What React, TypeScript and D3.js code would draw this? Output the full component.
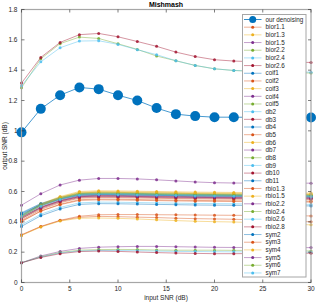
import * as d3 from "d3";

// Input SNR (dB) sample points
const inputSNR = [0, 2, 4, 6, 8, 10, 12, 14, 16, 18, 20, 22, 24, 26, 28, 30];
const xTicks = [0, 5, 10, 15, 20, 25, 30];
const yTicks = [0, 0.2, 0.4, 0.6, 0.8, 1, 1.2, 1.4, 1.6, 1.8];

const colorOrder = ["#0072BD", "#D95319", "#EDB120", "#7E2F8E", "#77AC30", "#4DBEEE", "#A2142F"];

const seriesNames = [
  "our denoising",
  "bior1.1", "bior1.3", "bior1.5", "bior2.2", "bior2.4", "bior2.6",
  "coif1", "coif2", "coif3", "coif4", "coif5",
  "db2", "db3", "db4", "db5", "db6", "db7", "db8", "db9", "db10", "db11",
  "rbio1.3", "rbio1.5", "rbio2.2", "rbio2.4", "rbio2.6", "rbio2.8",
  "sym2", "sym3", "sym4", "sym5", "sym6", "sym7",
];

// output SNR (dB), one array per method, same order as seriesNames
const seriesValues = [
  [0.99, 1.145, 1.235, 1.286, 1.275, 1.235, 1.2, 1.15, 1.11, 1.097, 1.09, 1.09, 1.089, 1.089, 1.088, 1.088],
  [0.312, 0.368, 0.408, 0.43, 0.436, 0.434, 0.431, 0.428, 0.424, 0.421, 0.419, 0.417, 0.413, 0.409, 0.405, 0.4],
  [0.42, 0.493, 0.539, 0.57, 0.575, 0.574, 0.572, 0.57, 0.568, 0.566, 0.565, 0.564, 0.563, 0.562, 0.561, 0.56],
  [0.51, 0.585, 0.643, 0.675, 0.686, 0.686, 0.683, 0.677, 0.67, 0.663, 0.658, 0.656, 0.655, 0.655, 0.655, 0.655],
  [1.284, 1.475, 1.575, 1.618, 1.609, 1.574, 1.537, 1.493, 1.462, 1.431, 1.409, 1.398, 1.392, 1.388, 1.384, 1.381],
  [1.297, 1.455, 1.548, 1.592, 1.594, 1.57, 1.535, 1.502, 1.462, 1.431, 1.409, 1.398, 1.394, 1.391, 1.389, 1.387],
  [1.315, 1.484, 1.583, 1.634, 1.642, 1.62, 1.589, 1.557, 1.519, 1.49, 1.469, 1.46, 1.456, 1.453, 1.452, 1.451],
  [0.46, 0.521, 0.56, 0.586, 0.59, 0.589, 0.587, 0.585, 0.583, 0.581, 0.58, 0.579, 0.578, 0.577, 0.576, 0.575],
  [0.41, 0.481, 0.526, 0.556, 0.56, 0.559, 0.557, 0.555, 0.553, 0.551, 0.55, 0.549, 0.548, 0.547, 0.546, 0.545],
  [0.44, 0.518, 0.567, 0.6, 0.605, 0.604, 0.602, 0.6, 0.598, 0.596, 0.595, 0.594, 0.593, 0.592, 0.591, 0.59],
  [0.44, 0.506, 0.548, 0.576, 0.58, 0.579, 0.577, 0.575, 0.573, 0.571, 0.57, 0.569, 0.568, 0.567, 0.566, 0.565],
  [0.445, 0.516, 0.561, 0.591, 0.595, 0.594, 0.592, 0.59, 0.588, 0.586, 0.585, 0.584, 0.583, 0.582, 0.581, 0.58],
  [0.38, 0.45, 0.495, 0.525, 0.53, 0.529, 0.527, 0.525, 0.523, 0.521, 0.52, 0.519, 0.518, 0.517, 0.516, 0.515],
  [0.42, 0.488, 0.532, 0.561, 0.565, 0.564, 0.562, 0.56, 0.558, 0.556, 0.555, 0.554, 0.553, 0.552, 0.551, 0.55],
  [0.455, 0.516, 0.555, 0.581, 0.585, 0.584, 0.582, 0.58, 0.578, 0.576, 0.575, 0.574, 0.573, 0.572, 0.571, 0.57],
  [0.4, 0.471, 0.516, 0.546, 0.55, 0.549, 0.547, 0.545, 0.543, 0.541, 0.54, 0.539, 0.538, 0.537, 0.536, 0.535],
  [0.435, 0.513, 0.562, 0.595, 0.6, 0.599, 0.597, 0.595, 0.593, 0.591, 0.59, 0.589, 0.588, 0.587, 0.586, 0.585],
  [0.43, 0.498, 0.542, 0.571, 0.575, 0.574, 0.572, 0.57, 0.568, 0.566, 0.565, 0.564, 0.563, 0.562, 0.561, 0.56],
  [0.44, 0.511, 0.556, 0.586, 0.59, 0.589, 0.587, 0.585, 0.583, 0.581, 0.58, 0.579, 0.578, 0.577, 0.576, 0.575],
  [0.44, 0.508, 0.552, 0.581, 0.585, 0.584, 0.582, 0.58, 0.578, 0.576, 0.575, 0.574, 0.573, 0.572, 0.571, 0.57],
  [0.43, 0.496, 0.538, 0.566, 0.57, 0.569, 0.567, 0.565, 0.563, 0.561, 0.56, 0.559, 0.558, 0.557, 0.556, 0.555],
  [0.45, 0.511, 0.55, 0.576, 0.58, 0.579, 0.577, 0.575, 0.573, 0.571, 0.57, 0.569, 0.568, 0.567, 0.566, 0.565],
  [0.315, 0.37, 0.41, 0.437, 0.447, 0.448, 0.448, 0.447, 0.446, 0.445, 0.444, 0.443, 0.442, 0.441, 0.44, 0.439],
  [0.31, 0.366, 0.405, 0.424, 0.425, 0.423, 0.419, 0.413, 0.408, 0.404, 0.401, 0.399, 0.395, 0.39, 0.385, 0.38],
  [0.13, 0.175, 0.205, 0.225, 0.233, 0.236, 0.238, 0.238, 0.236, 0.234, 0.232, 0.231, 0.231, 0.23, 0.23, 0.23],
  [0.13, 0.17, 0.198, 0.213, 0.217, 0.218, 0.217, 0.214, 0.213, 0.213, 0.213, 0.212, 0.211, 0.21, 0.209, 0.208],
  [0.13, 0.168, 0.195, 0.208, 0.211, 0.211, 0.21, 0.207, 0.205, 0.204, 0.203, 0.202, 0.202, 0.201, 0.2, 0.2],
  [0.13, 0.165, 0.19, 0.204, 0.207, 0.205, 0.201, 0.197, 0.194, 0.192, 0.19, 0.19, 0.191, 0.192, 0.193, 0.193],
  [0.37, 0.44, 0.485, 0.515, 0.52, 0.519, 0.517, 0.515, 0.513, 0.511, 0.51, 0.509, 0.508, 0.507, 0.506, 0.505],
  [0.405, 0.471, 0.513, 0.541, 0.545, 0.544, 0.542, 0.54, 0.538, 0.536, 0.535, 0.534, 0.533, 0.532, 0.531, 0.53],
  [0.43, 0.508, 0.557, 0.59, 0.595, 0.594, 0.592, 0.59, 0.588, 0.586, 0.585, 0.584, 0.583, 0.582, 0.581, 0.58],
  [0.425, 0.493, 0.537, 0.566, 0.57, 0.569, 0.567, 0.565, 0.563, 0.561, 0.56, 0.559, 0.558, 0.557, 0.556, 0.555],
  [0.435, 0.506, 0.551, 0.581, 0.585, 0.584, 0.582, 0.58, 0.578, 0.576, 0.575, 0.574, 0.573, 0.572, 0.571, 0.57],
  [0.435, 0.503, 0.547, 0.576, 0.58, 0.579, 0.577, 0.575, 0.573, 0.571, 0.57, 0.569, 0.568, 0.567, 0.566, 0.565],
];

const W = 316;
const H = 304;
const plot = { left: 21.5, right: 311, top: 9.5, bottom: 282.5 };
const font = "'Liberation Sans', Arial, sans-serif";
const textColor = "#262626";
const axisColor = "#a6a6a6";

const App = () => {
  const x = d3.scaleLinear().domain([0, 30]).range([plot.left, plot.right]);
  const y = d3.scaleLinear().domain([0, 1.8]).range([plot.bottom, plot.top]);

  const line = d3
    .line<number>()
    .x((_, i) => x(inputSNR[i]))
    .y((d) => y(d));

  // legend layout
  const lg = { x: 242.5, y: 14.5, w: 63.5, h: 262.5, first: 19.5, step: 7.68 };

  // draw our method last so it sits on top
  const order = seriesValues.map((_, i) => i).slice(1).concat([0]);

  return (
    <svg
      width={W}
      height={H}
      style={{ position: "absolute", left: 0, top: 0, background: "#fff" }}
      fontFamily={font}
    >
      <rect x={0} y={0} width={W} height={H} fill="#fff" />

      {/* title */}
      <text x={166} y={6.5} textAnchor="middle" fontSize={7} fontWeight="bold" fill="#000">
        Mishmash
      </text>

      {/* series */}
      {order.map((i) => {
        const color = colorOrder[i % colorOrder.length];
        const vals = seriesValues[i];
        const ours = i === 0;
        return (
          <g key={seriesNames[i]}>
            <path
              d={line(vals) ?? ""}
              fill="none"
              stroke={color}
              strokeWidth={ours ? 0.9 : 1}
              strokeOpacity={ours ? 0.8 : 0.45}
            />
            {vals.map((v, j) => (
              <circle
                key={j}
                cx={x(inputSNR[j])}
                cy={y(v)}
                r={ours ? 5 : 1.5}
                fill={color}
                fillOpacity={ours ? 1 : 0.85}
              />
            ))}
          </g>
        );
      })}

      {/* axes box */}
      <rect
        x={plot.left}
        y={plot.top}
        width={plot.right - plot.left}
        height={plot.bottom - plot.top}
        fill="none"
        stroke={axisColor}
        strokeWidth={1.2}
      />

      {/* x ticks */}
      {xTicks.map((t) => (
        <g key={"x" + t}>
          <line x1={x(t)} x2={x(t)} y1={plot.bottom} y2={plot.bottom - 3} stroke={textColor} strokeWidth={0.6} />
          <line x1={x(t)} x2={x(t)} y1={plot.top} y2={plot.top + 3} stroke={textColor} strokeWidth={0.6} />
          <text x={x(t)} y={291} textAnchor="middle" fontSize={6.5} fill={textColor}>
            {t}
          </text>
        </g>
      ))}

      {/* y ticks */}
      {yTicks.map((t) => (
        <g key={"y" + t}>
          <line x1={plot.left} x2={plot.left + 3} y1={y(t)} y2={y(t)} stroke={textColor} strokeWidth={0.6} />
          <line x1={plot.right} x2={plot.right - 3} y1={y(t)} y2={y(t)} stroke={textColor} strokeWidth={0.6} />
          <text x={17.5} y={y(t) + 2.2} textAnchor="end" fontSize={6.5} fill={textColor}>
            {d3.format("~g")(t)}
          </text>
        </g>
      ))}

      {/* axis labels */}
      <text x={166} y={300} textAnchor="middle" fontSize={6.5} fill={textColor}>
        input SNR (dB)
      </text>
      <text
        transform={`translate(6.5, ${(plot.top + plot.bottom) / 2}) rotate(-90)`}
        textAnchor="middle"
        fontSize={6.5}
        fill={textColor}
      >
        output SNR (dB)
      </text>

      {/* legend */}
      <rect x={lg.x} y={lg.y} width={lg.w} height={lg.h} fill="#fff" stroke={axisColor} strokeWidth={1} />
      {seriesNames.map((name, i) => {
        const color = colorOrder[i % colorOrder.length];
        const cy = lg.first + i * lg.step;
        const ours = i === 0;
        return (
          <g key={"lg" + name}>
            <line x1={244} x2={261.5} y1={cy} y2={cy} stroke={color} strokeWidth={1} strokeOpacity={ours ? 0.8 : 0.45} />
            <circle cx={252.7} cy={cy} r={ours ? 3.5 : 1.5} fill={color} />
            <text x={265.5} y={cy + 2.2} fontSize={6.3} fill={textColor}>
              {name}
            </text>
          </g>
        );
      })}
    </svg>
  );
};

export default App;
